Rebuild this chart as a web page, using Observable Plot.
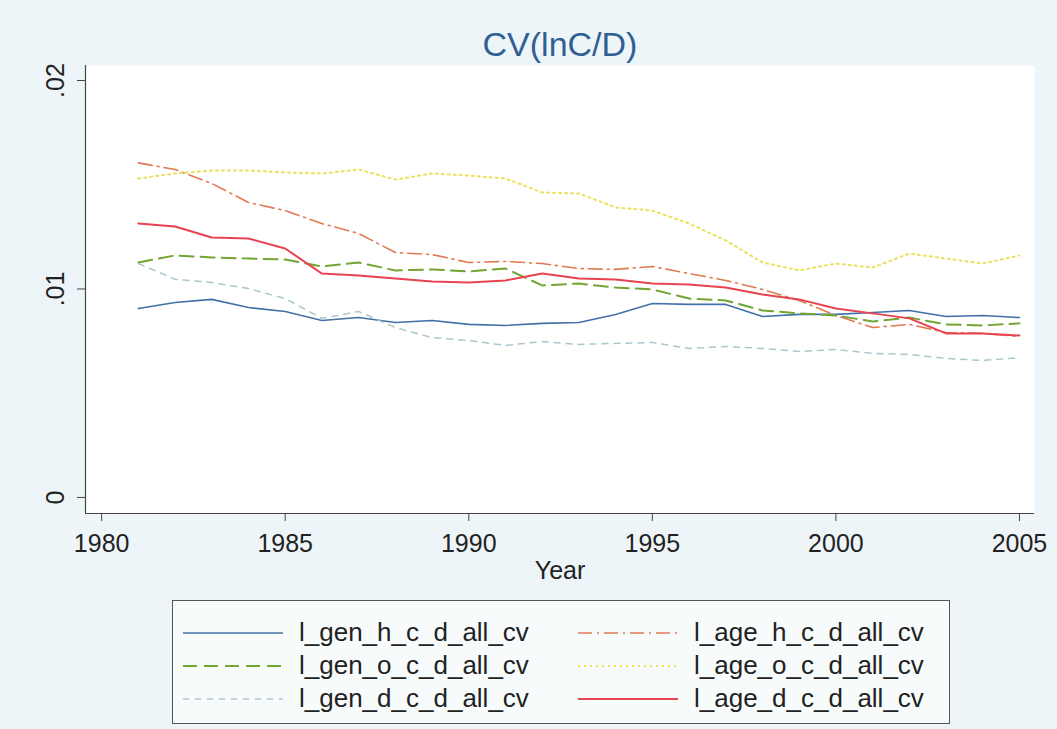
<!DOCTYPE html>
<html>
<head>
<meta charset="utf-8">
<script src="https://cdn.jsdelivr.net/npm/d3@7"></script>
<script src="https://cdn.jsdelivr.net/npm/@observablehq/plot@0.6"></script>
<style>
  html, body { margin: 0; padding: 0; background: #eef5f8; }
  body { width: 1057px; height: 729px; overflow: hidden; font-family: "Liberation Sans", Arial, sans-serif; }
  #title { height: 60px; position: relative; }
  #title span { position: absolute; left: 560px; top: 27px; transform: translateX(-50%); font-size: 34px; color: #2f5f93; line-height: 1; }
  #chart svg { display: block; }
  #legend { position: absolute; left: 172px; top: 600px; width: 778px; height: 124px; border: 1.3px solid #555; box-sizing: border-box; background: #f8fbfc; }
  .item { position: absolute; display: flex; align-items: center; height: 33px; font-size: 26px; color: #222; }
  .item svg { margin-right: 16px; }
</style>
</head>
<body>
<div id="title"><span>CV(lnC/D)</span></div>
<div id="chart"></div>
<div id="legend"></div>
<script>
const years = [1981,1982,1983,1984,1985,1986,1987,1988,1989,1990,1991,1992,1993,1994,1995,1996,1997,1998,1999,2000,2001,2002,2003,2004,2005];

const l_gen_h_c_d_all_cv = [0.00906,0.00935,0.00950,0.00911,0.00892,0.00849,0.00863,0.00839,0.00849,0.00830,0.00825,0.00835,0.00839,0.00878,0.00930,0.00926,0.00926,0.00868,0.00878,0.00878,0.00887,0.00897,0.00868,0.00873,0.00863];
const l_gen_o_c_d_all_cv = [0.01127,0.01161,0.01151,0.01146,0.01141,0.01108,0.01127,0.01089,0.01094,0.01084,0.01098,0.01017,0.01026,0.01007,0.00998,0.00954,0.00945,0.00897,0.00883,0.00873,0.00844,0.00863,0.00830,0.00825,0.00835];
const l_gen_d_c_d_all_cv = [0.01122,0.01046,0.01031,0.01002,0.00954,0.00859,0.00892,0.00815,0.00767,0.00753,0.00729,0.00748,0.00734,0.00739,0.00743,0.00715,0.00724,0.00715,0.00700,0.00710,0.00691,0.00686,0.00667,0.00657,0.00671];
const l_age_h_c_d_all_cv = [0.01605,0.01573,0.01506,0.01415,0.01376,0.01314,0.01266,0.01175,0.01165,0.01127,0.01132,0.01122,0.01098,0.01094,0.01108,0.01074,0.01041,0.00998,0.00945,0.00873,0.00815,0.00830,0.00791,0.00787,0.00772];
const l_age_o_c_d_all_cv = [0.01530,0.01554,0.01568,0.01568,0.01559,0.01554,0.01573,0.01525,0.01554,0.01544,0.01530,0.01463,0.01458,0.01391,0.01376,0.01314,0.01233,0.01127,0.01089,0.01122,0.01103,0.01170,0.01146,0.01122,0.01161];
const l_age_d_c_d_all_cv = [0.01314,0.01300,0.01247,0.01242,0.01194,0.01074,0.01065,0.01050,0.01036,0.01031,0.01041,0.01074,0.01050,0.01046,0.01026,0.01022,0.01007,0.00974,0.00950,0.00906,0.00883,0.00859,0.00787,0.00787,0.00777];

const seriesNames = ["l_gen_h_c_d_all_cv","l_age_h_c_d_all_cv","l_gen_o_c_d_all_cv","l_age_o_c_d_all_cv","l_gen_d_c_d_all_cv","l_age_d_c_d_all_cv"];
const seriesValues = [l_gen_h_c_d_all_cv,l_age_h_c_d_all_cv,l_gen_o_c_d_all_cv,l_age_o_c_d_all_cv,l_gen_d_c_d_all_cv,l_age_d_c_d_all_cv];

const xTicks = [1980,1985,1990,1995,2000,2005];
const yTicks = [0,0.01,0.02];
const yTickLabels = ["0",".01",".02"];

const styles = {
  "l_gen_h_c_d_all_cv": {stroke:"#4270a8", dash:null, w:1.6},
  "l_age_h_c_d_all_cv": {stroke:"#e07a52", dash:"14,5,2,5", w:1.6},
  "l_gen_o_c_d_all_cv": {stroke:"#72a532", dash:"14,7", w:2},
  "l_age_o_c_d_all_cv": {stroke:"#ece05a", dash:"2,4", w:2},
  "l_gen_d_c_d_all_cv": {stroke:"#a9c7cd", dash:"6,6", w:1.5},
  "l_age_d_c_d_all_cv": {stroke:"#e8434f", dash:null, w:2}
};

const xDomain = [1979.56, 2005.41];
const yDomain = [-0.00077, 0.02072];

const marks = [
  Plot.frame({fill: "white", stroke: null}),
  Plot.ruleX([xDomain[0]], {stroke: "#444", strokeWidth: 1.2}),
  Plot.ruleY([yDomain[0]], {stroke: "#444", strokeWidth: 1.2}),
  Plot.axisX({ticks: xTicks, tickFormat: d => String(d), tickSize: 8, tickPadding: 13, fontSize: 25, fill: "#222", stroke: "#444", label: null}),
  Plot.axisY({ticks: yTicks, tickFormat: d => yTickLabels[yTicks.indexOf(d)], tickSize: 8, tickPadding: 14, tickRotate: -90, fontSize: 25, fill: "#222", stroke: "#444", label: null}),
  Plot.text(["Year"], {frameAnchor: "bottom", dy: 65, fontSize: 25, fill: "#222"})
];
seriesNames.forEach((name, i) => {
  const s = styles[name];
  const data = years.map((yr, j) => ({year: yr, value: seriesValues[i][j]}));
  marks.push(Plot.line(data, {x: "year", y: "value", stroke: s.stroke, strokeWidth: s.w, strokeDasharray: s.dash, curve: "linear"}));
});

const chart = Plot.plot({
  width: 1057,
  height: 535,
  marginLeft: 85,
  marginRight: 23,
  marginTop: 5,
  marginBottom: 82,
  style: {background: "transparent", fontFamily: "'Liberation Sans', Arial, sans-serif"},
  x: {domain: xDomain, label: null},
  y: {domain: yDomain, label: null},
  marks
});
document.getElementById("chart").appendChild(chart);

const legend = document.getElementById("legend");
const legendOrder = [
  ["l_gen_h_c_d_all_cv", 0, 0], ["l_age_h_c_d_all_cv", 1, 0],
  ["l_gen_o_c_d_all_cv", 0, 1], ["l_age_o_c_d_all_cv", 1, 1],
  ["l_gen_d_c_d_all_cv", 0, 2], ["l_age_d_c_d_all_cv", 1, 2]
];
legendOrder.forEach(([name, col, row]) => {
  const s = styles[name];
  const div = document.createElement("div");
  div.className = "item";
  div.style.left = (col === 0 ? 10 : 405) + "px";
  div.style.top = (15 + row * 33) + "px";
  div.innerHTML = `<svg width="100" height="10"><line x1="0" y1="5" x2="100" y2="5" stroke="${s.stroke}" stroke-width="${s.w}" ${s.dash ? `stroke-dasharray="${s.dash}"` : ""}/></svg><span>${name}</span>`;
  legend.appendChild(div);
});
</script>
</body>
</html>
